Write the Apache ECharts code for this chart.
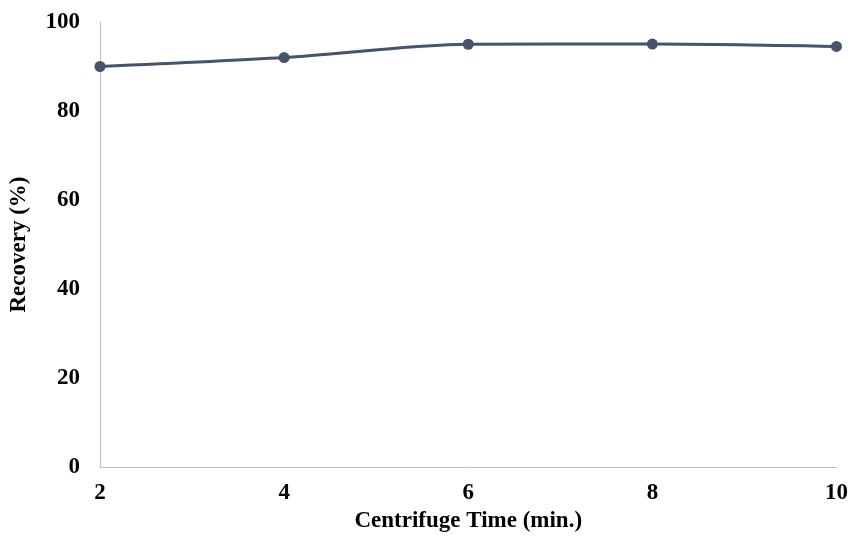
<!DOCTYPE html>
<html>
<head>
<meta charset="utf-8">
<script src="https://cdn.jsdelivr.net/npm/echarts@6/dist/echarts.min.js"></script>
<style>html,body{margin:0;padding:0;background:#fff}#c{width:851px;height:542px}</style>
</head>
<body>
<div id="c"></div>
<script>
const times = [2, 4, 6, 8, 10];
const recovery = [90, 92, 95, 95.05, 94.5];
const xTitle = 'Centrifuge Time (min.)';
const yTitle = 'Recovery (%)';

const chart = echarts.init(document.getElementById('c'));
const font = '"Liberation Serif", "Times New Roman", serif';
chart.setOption({
  animation: false,
  grid: {left: 100, right: 14, top: 22, bottom: 75, containLabel: false},
  xAxis: {
    type: 'value', min: 2, max: 10, interval: 2,
    name: xTitle, nameLocation: 'middle', nameGap: 43,
    nameTextStyle: {fontFamily: font, fontWeight: 'bold', fontSize: 23, color: '#000'},
    axisLine: {show: true, lineStyle: {color: '#BFBFBF', width: 1}},
    axisTick: {show: false},
    splitLine: {show: false},
    axisLabel: {fontFamily: font, fontWeight: 'bold', fontSize: 23, color: '#000', margin: 15}
  },
  yAxis: {
    type: 'value', min: 0, max: 100, interval: 20,
    name: yTitle, nameLocation: 'middle', nameGap: 69, nameRotate: 90,
    nameTextStyle: {fontFamily: font, fontWeight: 'bold', fontSize: 23, color: '#000'},
    axisLine: {show: true, lineStyle: {color: '#BFBFBF', width: 1}},
    axisTick: {show: false},
    splitLine: {show: false},
    axisLabel: {fontFamily: font, fontWeight: 'bold', fontSize: 23, color: '#000', margin: 20}
  },
  series: [{
    type: 'line',
    data: times.map((t, i) => [t, recovery[i]]),
    smooth: 0.3,
    symbol: 'circle',
    symbolSize: 11,
    lineStyle: {color: '#44546A', width: 3},
    itemStyle: {color: '#44546A'}
  }]
});
</script>
</body>
</html>
